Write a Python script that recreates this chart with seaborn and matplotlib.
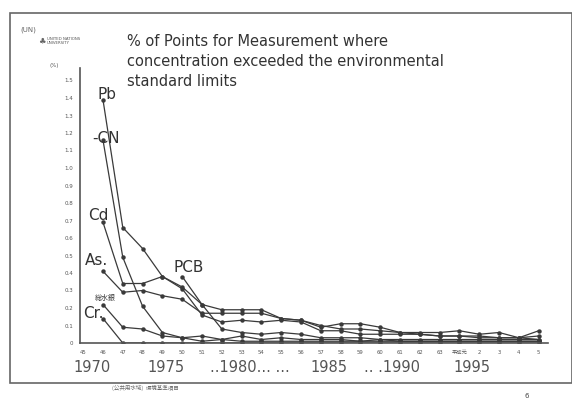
import numpy as np
import pandas as pd
import matplotlib
matplotlib.use("Agg")
import matplotlib.pyplot as plt
import seaborn as sns

# ---------------- data ----------------
years = list(range(1971, 1994))
pb  = [1.39, 0.66, 0.54, 0.38, 0.32, 0.22, 0.19, 0.19, 0.19, 0.14, 0.13, 0.09, 0.11, 0.11, 0.09, 0.06, 0.06, 0.06, 0.07, 0.05, 0.06, 0.03, 0.07]
cn  = [1.16, 0.49, 0.21, 0.06, 0.03, 0.04, 0.02, 0.04, 0.02, 0.03, 0.02, 0.02, 0.02, 0.01, 0.02, 0.01, 0.01, 0.01, 0.01, 0.01, 0.01, 0.01, 0.01]
cd  = [0.69, 0.34, 0.34, 0.38, 0.31, 0.16, 0.12, 0.13, 0.12, 0.13, 0.12, 0.07, 0.07, 0.05, 0.05, 0.05, 0.05, 0.04, 0.04, 0.03, 0.03, 0.03, 0.04]
as_ = [0.41, 0.29, 0.30, 0.27, 0.25, 0.17, 0.17, 0.17, 0.17, 0.14, 0.13, 0.10, 0.08, 0.08, 0.07, 0.06, 0.05, 0.04, 0.04, 0.04, 0.03, 0.03, 0.02]
pcb_years = list(range(1975, 1994))
pcb = [0.38, 0.22, 0.08, 0.06, 0.05, 0.06, 0.05, 0.03, 0.03, 0.03, 0.02, 0.02, 0.02, 0.02, 0.02, 0.02, 0.02, 0.02, 0.02]
hg  = [0.22, 0.09, 0.08, 0.04, 0.03, 0.01, 0.02, 0.01, 0.01, 0.01, 0.01, 0.01, 0.01, 0.01, 0.01, 0.01, 0.01, 0.01, 0.01, 0.01, 0.01, 0.01, 0.01]
cr  = [0.14, 0.00, 0.00, 0.00, 0.00, 0.00, 0.00, 0.00, 0.00, 0.00, 0.00, 0.00, 0.00, 0.00, 0.00, 0.00, 0.00, 0.00, 0.00, 0.00, 0.00, 0.00, 0.00]

tick_years = list(range(1970, 1994))
tick_labels = ["45", "46", "47", "48", "49", "50", "51", "52", "53", "54", "55", "56",
               "57", "58", "59", "60", "61", "62", "63", "平成元", "2", "3", "4", "5"]
y_ticks = [round(0.1 * i, 1) for i in range(16)]
y_tick_labels = ["0"] + [f"{v:.1f}" for v in y_ticks[1:]]

series_labels = ["Pb", "-CN", "Cd", "As.", "PCB", "総水銀", "Cr."]
# label anchor (data coords)
label_x = [1971.2, 1971.15, 1970.75, 1970.65, 1975.35, 1971.1, 1970.5]
label_y = [1.42, 1.17, 0.73, 0.47, 0.43, 0.26, 0.17]

year_overlay = ["1970", "1975", "..1980... ...", "1985", ".. .1990", "1995"]

# ---------------- build long table ----------------
rows = []
for name, xs, ys in [("Pb", years, pb), ("CN", years, cn), ("Cd", years, cd),
                     ("As", years, as_), ("PCB", pcb_years, pcb),
                     ("Hg", years, hg), ("Cr", years, cr)]:
    for x, y in zip(xs, ys):
        rows.append({"year": x, "value": y, "series": name})
df = pd.DataFrame(rows)

sns.set_style("white")
plt.rcParams["font.family"] = ["DejaVu Sans", "Noto Sans CJK JP"]

fig = plt.figure(figsize=(5.72, 4.07), dpi=100)
fig.patch.set_facecolor("white")
W, H = 572.0, 407.0
ax = fig.add_axes([80 / W, 1 - 343 / H, (548 - 80) / W, (343 - 68) / H])
ax.set_facecolor("none")

pal = {k: "#3a3a3a" for k in df["series"].unique()}
sns.lineplot(data=df, x="year", y="value", hue="series", palette=pal,
             estimator=None, marker="o", markersize=3.2, markeredgewidth=0,
             linewidth=0.9, legend=False, ax=ax)

ax.set_xlim(1969.84, 1993.47)
ax.set_ylim(0, 275 / 175)
ax.set_xticks(tick_years)
ax.set_xticklabels(tick_labels, fontsize=3.8, color="#555555",
                   family=["DejaVu Sans", "Noto Sans CJK JP"])
ax.set_yticks(y_ticks)
ax.set_yticklabels(y_tick_labels, fontsize=4, color="#555555")
ax.tick_params(axis="both", direction="out", length=3, width=0.8, color="#555555", pad=2)
ax.set_xlabel("")
ax.set_ylabel("")
for s in ["top", "right"]:
    ax.spines[s].set_visible(False)
for s in ["left", "bottom"]:
    ax.spines[s].set_color("#555555")
    ax.spines[s].set_linewidth(1.2)

ax.text(-0.045, 1.0, "(%)", transform=ax.transAxes, fontsize=4, color="#555555",
        ha="right", va="bottom")

for t, x, y in zip(series_labels, label_x, label_y):
    fs = 5 if t == "総水銀" else 11
    ax.text(x, y, t, fontsize=fs, color="#333333", ha="center", va="center",
            family=["DejaVu Sans", "Noto Sans CJK JP"])

# overlay year labels below axis
for t, px in zip(year_overlay, [92, 166, 250, 329, 392, 472]):
    fig.text(px / W, 1 - 368 / H, t, fontsize=10.5, color="#555555",
             ha="center", va="center")
fig.text(112 / W, 1 - 388 / H, "(公共用水域)  環境基準項目", fontsize=4, color="#666666",
         ha="left", va="center", family=["Noto Sans CJK JP", "DejaVu Sans"])

# title
title_lines = ["% of Points for Measurement where",
               "concentration exceeded the environmental",
               "standard limits"]
for i, line in enumerate(title_lines):
    fig.text(127 / W, 1 - (41 + 20 * i) / H, line, fontsize=10.5, color="#333333",
             ha="left", va="center")

# UN logo text
fig.text(28 / W, 1 - 30 / H, "(UN)", fontsize=5, color="#666666", ha="center", va="center")
fig.text(47 / W, 1 - 41 / H, "UNITED NATIONS\nUNIVERSITY", fontsize=2.8, color="#555555",
         ha="left", va="center", linespacing=1.0)
fig.text(42 / W, 1 - 41 / H, "♣", fontsize=6, color="#666666", ha="center", va="center")

# page number
fig.text(527 / W, 1 - 396 / H, "6", fontsize=5, color="#444444", ha="center", va="center")

# slide frame
frame = plt.Rectangle((10 / W, 1 - 383 / H), (572 - 10) / W, (383 - 13) / H,
                      transform=fig.transFigure, fill=False, edgecolor="#666666",
                      linewidth=1.2)
fig.add_artist(frame)

fig.savefig("out.png", dpi=100, facecolor="white")
